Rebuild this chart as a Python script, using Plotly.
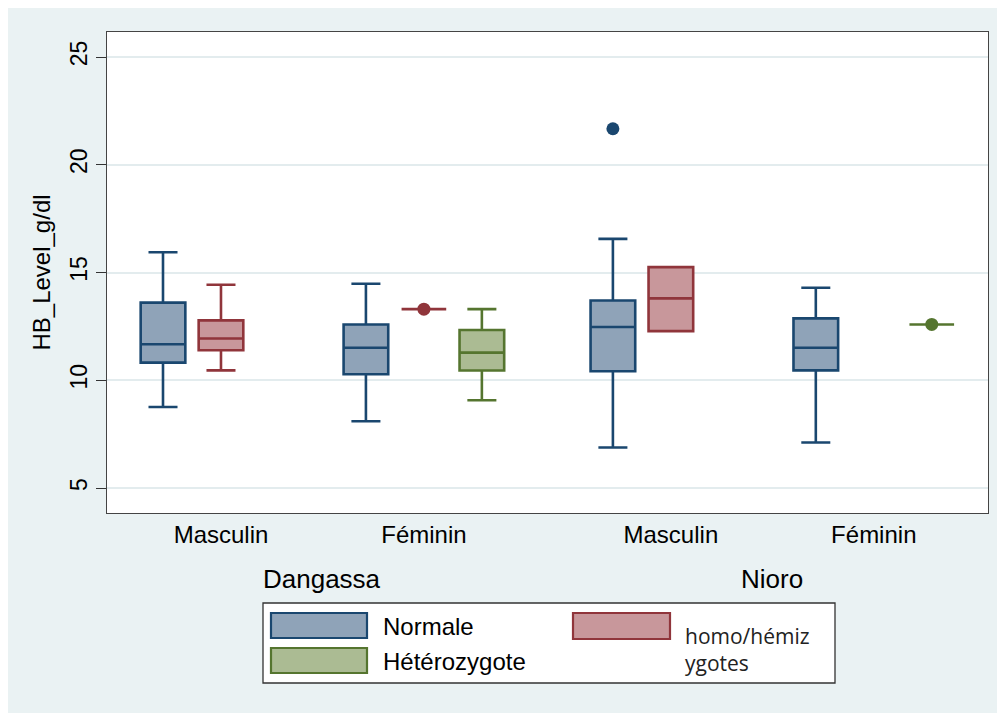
import plotly.graph_objects as go

# groups in drawing order: (site, sex)
sites = ["Dangassa", "Nioro"]
sexes = ["Masculin", "Féminin"]
genotypes = ["Normale", "homo/hémizygotes", "Hétérozygote"]

# box stats per group: Dangassa-M, Dangassa-F, Nioro-M, Nioro-F (None = no data)
normale_q1 = [10.82, 10.28, 10.42, 10.46]
normale_med = [11.67, 11.51, 12.47, 11.51]
normale_q3 = [13.60, 12.59, 13.70, 12.87]
normale_lo = [8.76, 8.10, 6.88, 7.11]
normale_hi = [15.94, 14.48, 16.56, 14.29]
normale_points = [[], [], [21.67], []]

homo_q1 = [11.39, 13.30, 12.28, None]
homo_med = [11.94, 13.30, 13.80, None]
homo_q3 = [12.78, 13.30, 15.25, None]
homo_lo = [10.46, 13.30, 12.28, None]
homo_hi = [14.43, 13.30, 15.25, None]
homo_points = [[], [13.30], [], []]

hetero_q1 = [None, 10.45, None, 12.59]
hetero_med = [None, 11.28, None, 12.59]
hetero_q3 = [None, 12.33, None, 12.59]
hetero_lo = [None, 9.07, None, 12.59]
hetero_hi = [None, 13.30, None, 12.59]
hetero_points = [[], [], [], [12.59]]

y_ticks = [5, 10, 15, 20, 25]

# colours (Stata s2color)
BG = "#eaf2f3"
line_cols = ["#1a476f", "#90353b", "#55752f"]
fill_cols = ["#8fa3b8", "#c8979b", "#abbb93"]

# layout of slots on the x axis
SEX_GAP = 0.5
SITE_GAP = 1.26
bases = []
pos = 0.0
for si in range(len(sites)):
    for xi in range(len(sexes)):
        bases.append(pos)
        pos += len(genotypes) + (SEX_GAP if xi < len(sexes) - 1 else SITE_GAP)

# page size, and the page body margin the figure sits in
W, H = 1005, 713
OX, OY = 8, 8
EXTRA = 10  # let the background run past the window edge
# plot area in page pixels
L, R, T, B = 107, 988, 32, 513


def px(x):
    return (x - L) / (R - L)


def py(y):
    return (B - y) / (B - T)


fig = go.Figure()

series = [
    (normale_q1, normale_med, normale_q3, normale_lo, normale_hi, normale_points),
    (homo_q1, homo_med, homo_q3, homo_lo, homo_hi, homo_points),
    (hetero_q1, hetero_med, hetero_q3, hetero_lo, hetero_hi, hetero_points),
]

for gi, (q1, med, q3, lo, hi, pts) in enumerate(series):
    xs, a, b, c, d, e = [], [], [], [], [], []
    px_x, px_y = [], []
    for k in range(len(bases)):
        if q1[k] is None:
            continue
        xs.append(bases[k] + gi)
        a.append(q1[k]); b.append(med[k]); c.append(q3[k])
        d.append(lo[k]); e.append(hi[k])
        for v in pts[k]:
            px_x.append(bases[k] + gi)
            px_y.append(v)
    fig.add_trace(go.Box(
        x=xs, q1=a, median=b, q3=c, lowerfence=d, upperfence=e,
        name=genotypes[gi],
        width=0.77,
        whiskerwidth=0.65,
        fillcolor=fill_cols[gi],
        line=dict(color=line_cols[gi], width=2.6),
        boxpoints=False,
        showlegend=False,
        hoverinfo="skip",
    ))
    if px_x:
        fig.add_trace(go.Scatter(
            x=px_x, y=px_y, mode="markers",
            marker=dict(color=line_cols[gi], size=13),
            showlegend=False, hoverinfo="skip",
        ))

sex_centers = [b + 1 for b in bases]
sex_labels = [s for _ in sites for s in sexes]

fig.update_layout(
    width=W - OX + EXTRA, height=H - OY + EXTRA,
    margin=dict(l=L - OX, r=W - R + EXTRA, t=T - OY, b=H - B + EXTRA),
    paper_bgcolor=BG,
    plot_bgcolor="white",
    font=dict(family="Liberation Sans, Arial, sans-serif", size=23, color="black"),
    boxmode="overlay",
    showlegend=False,
    xaxis=dict(
        range=[-0.966, 14.23],
        tickvals=sex_centers, ticktext=sex_labels,
        ticks="", showgrid=False, zeroline=False,
        showline=True, mirror=True, linecolor="#444", linewidth=1.3,
        tickfont=dict(size=24),
    ),
    yaxis=dict(
        range=[3.84, 26.16],
        tickvals=y_ticks,
        tickangle=-90,
        ticks="outside", ticklen=10, tickcolor="#333", tickwidth=1.3,
        showgrid=True, gridcolor="#e3ecee", gridwidth=1.5,
        zeroline=False,
        showline=True, mirror=True, linecolor="#444", linewidth=1.3,
        title=dict(text="HB_Level_g/dl", font=dict(size=24), standoff=8),
    ),
)

shapes = [
    # legend frame
    dict(type="rect", xref="paper", yref="paper", x0=px(263), x1=px(835), y0=py(683), y1=py(603),
         fillcolor="white", line=dict(color="#333", width=1.3)),
]

# legend swatches
swatches = [
    (0, 271, 367, 613, 638),
    (2, 271, 367, 648, 673),
    (1, 573, 670, 613, 639),
]
for gi, x0, x1, y0, y1 in swatches:
    shapes.append(dict(type="rect", xref="paper", yref="paper",
                       x0=px(x0), x1=px(x1), y0=py(y1), y1=py(y0),
                       fillcolor=fill_cols[gi], line=dict(color=line_cols[gi], width=2.2)))
fig.update_layout(shapes=shapes)

annotations = []
# site labels under the sex labels
for si, site in enumerate(sites):
    first = bases[si * len(sexes)]
    last = bases[si * len(sexes) + len(sexes) - 1] + len(genotypes) - 1
    annotations.append(dict(x=(first + last) / 2, y=py(579), xref="x", yref="paper",
                            text=site, showarrow=False, font=dict(size=26),
                            xanchor="center", yanchor="middle"))
# legend labels
annotations.append(dict(x=px(381), y=py(626), xref="paper", yref="paper", text=genotypes[0],
                        showarrow=False, xanchor="left", yanchor="middle", font=dict(size=24)))
annotations.append(dict(x=px(381), y=py(661), xref="paper", yref="paper", text=genotypes[2],
                        showarrow=False, xanchor="left", yanchor="middle", font=dict(size=24)))
annotations.append(dict(x=px(683), y=py(649), xref="paper", yref="paper",
                        text="homo/hémiz<br>ygotes", align="left",
                        showarrow=False, xanchor="left", yanchor="middle",
                        font=dict(size=21, family="Open Sans, sans-serif", color="#222")))
fig.update_layout(annotations=annotations)

fig.write_html("out.html")
